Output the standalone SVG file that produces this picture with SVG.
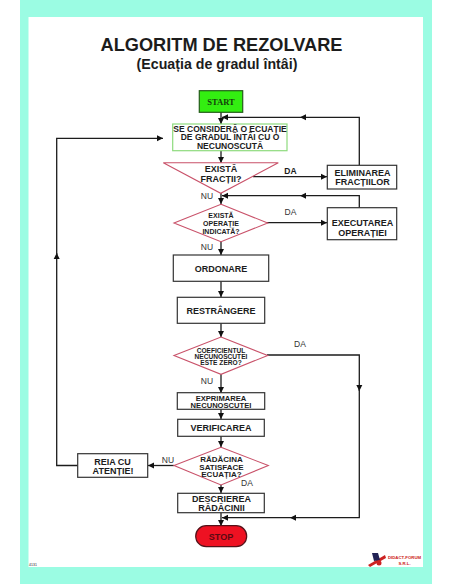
<svg xmlns="http://www.w3.org/2000/svg" width="452" height="584" viewBox="0 0 452 584">
<style>
text{font-family:"Liberation Sans",Arial,sans-serif;font-weight:bold;fill:#1c1c1c;text-anchor:middle}
.box{fill:#fff;stroke:#333;stroke-width:1.2}
.dec{fill:#fff;stroke:#c9526a;stroke-width:1.1}
.wire{fill:none;stroke:#1c1c1c;stroke-width:1.3;marker-end:url(#arr)}
.t9{font-size:9px}.t85{font-size:8.500px}.t7{font-size:7px}.t76{font-size:7.600px}.t8{font-size:8px}.t6{font-size:6.600px}
.lab{font-size:8.500px;font-weight:normal;fill:#333}
</style>
<defs><marker id="arr" markerUnits="userSpaceOnUse" markerWidth="7" markerHeight="7" refX="6" refY="3.500" orient="auto"><path d="M0 0.500L6 3.500L0 6.500Z" fill="#111"/></marker></defs>
<rect width="452" height="584" fill="#fff"/>
<path d="M20 0H432V584H20ZM28.500 17V567H423V17Z" fill="#9bfce3" fill-rule="evenodd"/>
<g id="title"><text x="221.500" y="50.500" font-size="18.200">ALGORITM DE REZOLVARE</text><text x="217" y="69" font-size="14.200">(Ecuația de gradul întâi)</text></g>
<g id="connectors">
<path class="wire" d="M221 112V124"/>
<path class="wire" d="M359.300 165V117.300H300"/><path class="wire" d="M300 117.300H222"/>
<path class="wire" d="M221 151V163"/>
<path class="wire" d="M253 176.700H327"/>
<path class="wire" d="M221 193V204"/>
<path class="wire" d="M359.300 208V195.700H300"/><path class="wire" d="M300 195.700H222"/>
<path class="wire" d="M267 222.700H327"/>
<path class="wire" d="M221 241V255"/>
<path class="wire" d="M221 281V297"/>
<path class="wire" d="M221 323V337"/>
<path class="wire" d="M267 355H359.300V391"/><path class="wire" d="M359.300 389V517.700H290"/><path class="wire" d="M290 517.700H222"/>
<path class="wire" d="M221 374V393"/>
<path class="wire" d="M221 409V419"/>
<path class="wire" d="M221 436V447"/>
<path class="wire" d="M221 485V493"/>
<path class="wire" d="M221 513V526"/>
<path class="wire" d="M174 465.500H148"/>
<path class="wire" d="M78 465.500H56.700V253"/><path class="wire" d="M56.700 255V138.300H163"/>
</g>
<g id="start"><rect x="199.300" y="90.700" width="43.400" height="21.600" fill="#33ee11" stroke="#245c1a" stroke-width="1.200"/><text x="221" y="104.500" font-size="8.500" style="font-family:'Liberation Serif',serif;fill:#14400c">START</text></g>
<g id="consider"><rect x="172.700" y="124" width="114.300" height="26.700" fill="#fff" stroke="#8edb7e" stroke-width="1.200"/><text class="t85" x="230" y="131.500">SE CONSIDERĂ O ECUAȚIE</text><text class="t85" x="230" y="140">DE GRADUL ÎNTÂI CU O</text><text class="t85" x="230" y="148.500">NECUNOSCUTĂ</text></g>
<g id="fractii"><path class="dec" d="M163.300 162.700H278.300L220.700 193.300Z"/><text class="t9" x="221" y="171.500">EXISTĂ</text><text class="t9" x="221" y="181.500">FRACȚII?</text></g>
<g id="eliminare"><rect class="box" x="327.300" y="165.300" width="69.400" height="23.700"/><text class="t9" x="362.500" y="175.500">ELIMINAREA</text><text class="t9" x="362.500" y="185">FRACȚIILOR</text></g>
<g id="operatie"><path class="dec" d="M221 204.300L267.700 223L221 241.700L174 223Z"/><text class="t7" x="221" y="217.500">EXISTĂ</text><text class="t7" x="221" y="225.700">OPERAȚIE</text><text class="t7" x="221" y="233.700">INDICATĂ?</text></g>
<g id="executare"><rect class="box" x="327.300" y="207.700" width="69.400" height="32"/><text class="t9" x="362.500" y="226">EXECUTAREA</text><text class="t9" x="362.500" y="236">OPERAȚIEI</text></g>
<g id="ordonare"><rect class="box" x="173.300" y="255" width="95.400" height="26.300"/><text class="t9" x="221" y="271.500">ORDONARE</text></g>
<g id="restrangere"><rect class="box" x="177.300" y="297.300" width="87.400" height="26"/><text class="t9" x="221" y="314">RESTRÂNGERE</text></g>
<g id="coeficient"><path class="dec" d="M221 337L267.700 355.500L221 374.300L174 355.500Z"/><text class="t6" x="221" y="352.500">COEFICIENTUL</text><text class="t6" x="221" y="358.700">NECUNOSCUTEI</text><text class="t6" x="221" y="365">ESTE ZERO?</text></g>
<g id="exprimare"><rect class="box" x="177.300" y="392.700" width="87.400" height="16.600"/><text class="t76" x="221" y="400.500">EXPRIMAREA</text><text class="t76" x="221" y="408">NECUNOSCUTEI</text></g>
<g id="verificare"><rect class="box" x="177.700" y="419.300" width="86.600" height="17"/><text class="t9" x="221" y="431">VERIFICAREA</text></g>
<g id="radacina"><path class="dec" d="M221 447.300L268.300 465.500L221 485L174 465.500Z"/><text class="t8" x="221.500" y="461.500">RĂDĂCINA</text><text class="t8" x="221.500" y="469.500">SATISFACE</text><text class="t8" x="221.500" y="477">ECUAȚIA?</text></g>
<g id="reia"><rect class="box" x="77.700" y="453.700" width="70" height="23.600"/><text class="t9" x="112.500" y="465">REIA CU</text><text class="t9" x="113" y="474">ATENȚIE!</text></g>
<g id="descriere"><rect class="box" x="177.700" y="493.300" width="86.600" height="19.400"/><text class="t9" x="221.500" y="502">DESCRIEREA</text><text class="t9" x="221.500" y="511">RĂDĂCINII</text></g>
<g id="stop"><rect x="195.700" y="525.700" width="51" height="21" rx="10.500" fill="#ee1122" stroke="#551118" stroke-width="1.200"/><text class="t9" x="221" y="539.500" style="fill:#5a0a12">STOP</text></g>
<g id="labels"><text class="t85" x="290.500" y="173.500">DA</text><text class="lab" x="290.500" y="215">DA</text><text class="lab" x="207" y="199.300">NU</text><text class="lab" x="207" y="250">NU</text><text class="lab" x="300" y="347">DA</text><text class="lab" x="207" y="384">NU</text><text class="lab" x="168" y="463">NU</text><text class="lab" x="247" y="485.500">DA</text></g>
<g id="logo"><path d="M368 565L385 555L386 558L370 567Z" fill="#c22"/><path d="M372 553L378 553L380 560L374 561Z" fill="#225"/><circle cx="379" cy="563" r="2.500" fill="#c22"/><text x="404.500" y="559" font-size="4.300" style="fill:#c22">DIDACT-FORUM</text><text x="404.500" y="565" font-size="4.300" style="fill:#c22">S.R.L.</text></g>
<text x="33" y="566" font-size="3.500" style="font-weight:normal">4131</text>
</svg>
